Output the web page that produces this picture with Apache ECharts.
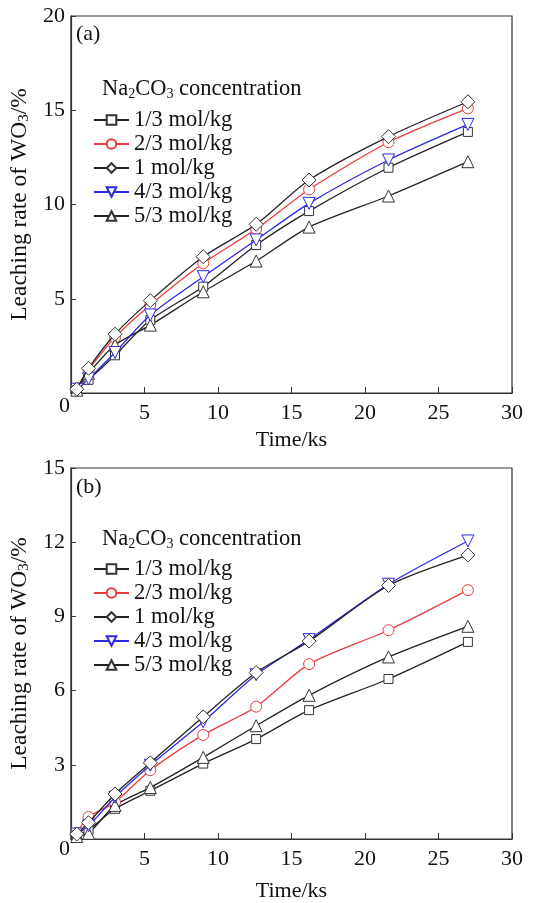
<!DOCTYPE html>
<html>
<head>
<meta charset="utf-8">
<script src="https://cdn.jsdelivr.net/npm/echarts@6/dist/echarts.min.js"></script>
<style>
html,body{margin:0;padding:0;background:#fff;}
#chart{width:549px;height:903px;}
</style>
</head>
<body>
<div id="chart"></div>
<script>
// ---- data ----
var times = [0.4, 1.2, 3.0, 5.4, 9.0, 12.6, 16.2, 21.6, 27.0];
var seriesNames = ['1/3 mol/kg', '2/3 mol/kg', '1 mol/kg', '4/3 mol/kg', '5/3 mol/kg'];
// panel (a)
var a_13 = [0.2, 0.7, 2.0, 3.87, 5.64, 7.85, 9.65, 11.95, 13.85];
var a_23 = [0.25, 1.22, 2.95, 4.67, 6.88, 8.7, 10.8, 13.3, 15.1];
var a_1  = [0.2, 1.31, 3.12, 4.9, 7.23, 8.95, 11.3, 13.6, 15.45];
var a_43 = [0.2, 0.75, 2.15, 4.14, 6.17, 8.12, 10.06, 12.36, 14.25];
var a_53 = [0.15, 1.05, 2.55, 3.6, 5.37, 7.0, 8.8, 10.45, 12.27];
// panel (b)
var b_13 = [0.1, 0.36, 1.22, 1.95, 3.05, 4.04, 5.21, 6.47, 7.97];
var b_23 = [0.25, 0.89, 1.49, 2.78, 4.21, 5.35, 7.07, 8.44, 10.06];
var b_1  = [0.2, 0.66, 1.82, 3.08, 4.94, 6.73, 8.0, 10.25, 11.48];
var b_43 = [0.2, 0.53, 1.69, 2.98, 4.74, 6.64, 8.06, 10.3, 12.05];
var b_53 = [0.1, 0.23, 1.36, 2.08, 3.3, 4.58, 5.81, 7.36, 8.6];
var xTicks = [0, 5, 10, 15, 20, 25, 30];
var yTicksA = [0, 5, 10, 15, 20];
var yTicksB = [0, 3, 6, 9, 12, 15];

// ---- styles ----
var FONT = "'Liberation Serif','Times New Roman',serif";
var TXT = '#111';
var BLACK = '#222';
var RED = '#ee3a3a';
var BLUE = '#2a2ae6';
var styles = [
  {color: BLACK, symbol: 'rect', size: 9, rot: 0},
  {color: RED, symbol: 'circle', size: 11, rot: 0},
  {color: BLACK, symbol: 'diamond', size: 14, rot: 0},
  {color: BLUE, symbol: 'triangle', size: 12, rot: 180},
  {color: BLACK, symbol: 'triangle', size: 12, rot: 0}
];

function pairs(ys) { return times.map(function (t, i) { return [t, ys[i]]; }); }

function makeSeries(idx, arrs) {
  return arrs.map(function (arr, k) {
    var s = styles[k];
    return {
      name: seriesNames[k],
      type: 'line',
      xAxisIndex: idx, yAxisIndex: idx,
      data: pairs(arr),
      smooth: 0.25,
      symbol: s.symbol,
      symbolSize: s.size,
      symbolRotate: s.rot,
      showAllSymbol: true,
      lineStyle: {color: s.color, width: 1.3},
      itemStyle: {color: '#fff', borderColor: s.color === BLACK ? '#333' : s.color, borderWidth: 1},
      emphasis: {disabled: true},
      z: 2 + (k === 2 ? 3 : k === 3 ? 2 : 0)
    };
  });
}

function xAxisCfg(gi, zeroLH, gap) {
  return {
    type: 'value', gridIndex: gi, min: xTicks[0], max: xTicks[xTicks.length - 1], interval: 5,
    name: 'Time/ks', nameLocation: 'middle', nameGap: gap,
    nameTextStyle: {fontFamily: FONT, fontSize: 22, color: TXT},
    axisLine: {show: true, onZero: false, lineStyle: {color: '#333', width: 1.2}},
    axisTick: {show: true, inside: true, length: 6, lineStyle: {color: '#333'}},
    splitLine: {show: false},
    axisLabel: {
      fontFamily: FONT, fontSize: 22, color: TXT, margin: 9,
      formatter: function (v) { return v === 0 ? '{z|0}' : String(v); },
      rich: {z: {fontFamily: FONT, fontSize: 22, color: TXT, lineHeight: zeroLH, padding: [0, 13, 0, 0]}}
    }
  };
}

function yAxisCfg(gi, ticks, interval) {
  return {
    type: 'value', gridIndex: gi, min: ticks[0], max: ticks[ticks.length - 1], interval: interval,
    name: '{m|Leaching rate of WO}{sub|3}{m|/%}', nameLocation: 'middle', nameGap: 37,
    nameTextStyle: {fontFamily: FONT, fontSize: 23, color: TXT,
      rich: {
        m: {fontFamily: FONT, fontSize: 23.5, color: TXT},
        sub: {fontFamily: FONT, fontSize: 15, color: TXT, padding: [9, 0, 0, 0]}
      }},
    axisLine: {show: true, lineStyle: {color: '#333', width: 1.2}},
    axisTick: {show: true, inside: true, length: 5, lineStyle: {color: '#333'}},
    splitLine: {show: false},
    axisLabel: {
      fontFamily: FONT, fontSize: 22, color: TXT, margin: 6,
      formatter: function (v) { return v === 0 ? '' : String(v); }
    }
  };
}

function legendCfg(top) {
  return {
    data: seriesNames, orient: 'vertical', left: 88, top: top,
    itemWidth: 35, itemHeight: 12, itemGap: 0,
    selectedMode: false,
    textStyle: {fontFamily: FONT, fontSize: 22.5, color: TXT, lineHeight: 24, padding: [0, 0, 0, 0]}
  };
}

var legendTitleRich = {
  t: {fontFamily: FONT, fontSize: 22.5, fontWeight: 'normal', color: TXT},
  s: {fontFamily: FONT, fontSize: 14, fontWeight: 'normal', color: TXT, padding: [10, 0, 0, 0]}
};
var legendTitleText = '{t|Na}{s|2}{t|CO}{s|3}{t| concentration}';

var option = {
  backgroundColor: '#fff',
  animation: false,
  title: [
    {text: '(a)', left: 71, top: 18, textStyle: {fontFamily: FONT, fontSize: 22, fontWeight: 'normal', color: TXT}},
    {text: '(b)', left: 71, top: 471, textStyle: {fontFamily: FONT, fontSize: 22, fontWeight: 'normal', color: TXT}},
    {text: legendTitleText, left: 97, top: 72, textStyle: {fontWeight: 'normal', rich: legendTitleRich}},
    {text: legendTitleText, left: 97, top: 522, textStyle: {fontWeight: 'normal', rich: legendTitleRich}}
  ],
  legend: [legendCfg(103), legendCfg(552)],
  grid: [
    {left: 68, width: 444, top: 16, height: 377, show: true, borderColor: '#333', borderWidth: 1.2, backgroundColor: 'transparent'},
    {left: 68, width: 444, top: 468, height: 376, show: true, borderColor: '#333', borderWidth: 1.2, backgroundColor: 'transparent'}
  ],
  xAxis: [xAxisCfg(0, 8, 36), xAxisCfg(1, 2, 41)],
  yAxis: [yAxisCfg(0, yTicksA, 5), yAxisCfg(1, yTicksB, 3)],
  series: makeSeries(0, [a_13, a_23, a_1, a_43, a_53]).concat(makeSeries(1, [b_13, b_23, b_1, b_43, b_53]))
};

var chart = echarts.init(document.getElementById('chart'), null, {renderer: 'canvas'});
chart.setOption(option);
</script>
</body>
</html>
